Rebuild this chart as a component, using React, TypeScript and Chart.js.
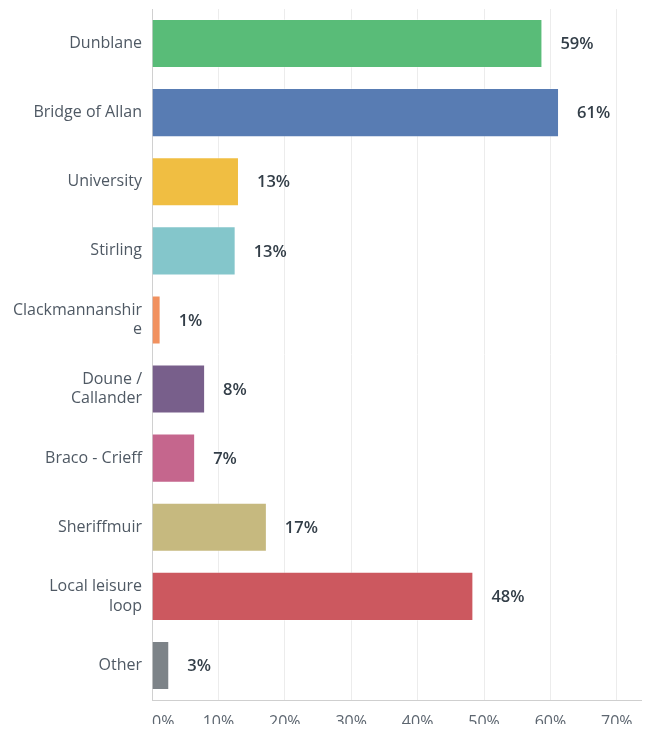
import React, { useEffect, useRef } from "react";
import { Chart, registerables } from "chart.js";

Chart.register(...registerables);

const categories: (string | string[])[] = [
  "Dunblane",
  "Bridge of Allan",
  "University",
  "Stirling",
  ["Clackmannanshir", "e"],
  ["Doune /", "Callander"],
  "Braco - Crieff",
  "Sheriffmuir",
  ["Local leisure", "loop"],
  "Other",
];

const values: number[] = [58.8, 61.3, 13.1, 12.6, 1.3, 8.0, 6.5, 17.3, 48.4, 2.6];

const barColors: string[] = [
  "#59bc78",
  "#587cb3",
  "#f0be42",
  "#84c6cb",
  "#f1915f",
  "#785f8b",
  "#c5668d",
  "#c6b97f",
  "#cc585f",
  "#7d8388",
];

const tickValues: number[] = [0, 10, 20, 30, 40, 50, 60, 70];

const FONT = "'Open Sans', sans-serif";

const valueLabelPlugin = {
  id: "valueLabels",
  afterDatasetsDraw(chart: any) {
    const ctx = chart.ctx;
    const meta = chart.getDatasetMeta(0);
    ctx.save();
    ctx.font = `600 16.5px ${FONT}`;
    ctx.fillStyle = "#333e48";
    ctx.textAlign = "left";
    ctx.textBaseline = "middle";
    meta.data.forEach((bar: any, i: number) => {
      const v = chart.data.datasets[0].data[i] as number;
      ctx.fillText(`${Math.round(v)}%`, bar.x + 18, bar.y + 1);
    });
    ctx.restore();
  },
};

const bottomLinePlugin = {
  id: "bottomLine",
  afterDraw(chart: any) {
    const ctx = chart.ctx;
    const y = Math.round(chart.chartArea.bottom) + 0.5;
    ctx.save();
    ctx.strokeStyle = "#cfcfcf";
    ctx.lineWidth = 1;
    ctx.beginPath();
    ctx.moveTo(chart.chartArea.left, y);
    ctx.lineTo(chart.width, y);
    ctx.stroke();
    ctx.restore();
  },
};

export default function App() {
  const ref = useRef<HTMLCanvasElement | null>(null);

  useEffect(() => {
    if (!ref.current) return;
    const chart = new Chart(ref.current, {
      type: "bar",
      data: {
        labels: categories,
        datasets: [
          {
            data: values,
            backgroundColor: barColors,
            borderColor: barColors.map(() => "rgba(255,255,255,0.35)"),
            borderWidth: 1,
            barPercentage: 0.71,
            categoryPercentage: 1,
          },
        ],
      },
      options: {
        indexAxis: "y",
        animation: false,
        responsive: false,
        layout: { padding: { top: 9, left: 0, right: 0, bottom: 0 } },
        plugins: {
          legend: { display: false },
          tooltip: { enabled: false },
        },
        scales: {
          x: {
            min: 0,
            max: 75,
            afterBuildTicks: (scale: any) => {
              scale.ticks = [...tickValues, 75].map((v) => ({ value: v }));
            },
            afterFit: (scale: any) => {
              scale.height = 32;
              scale.paddingLeft = 0;
              scale.paddingRight = 0;
            },
            grid: {
              drawTicks: false,
              color: (c: any) => (c.tick && c.tick.value > 70 ? "rgba(0,0,0,0)" : "#ececec"),
              lineWidth: 1,
            },
            border: { display: false },
            ticks: {
              align: "inner",
              padding: 13,
              color: "#5d6670",
              font: { family: FONT, size: 16 },
              callback: (v: any) => (Number(v) > 70 ? "" : `${v}%`),
              maxRotation: 0,
              autoSkip: false,
            },
          },
          y: {
            afterFit: (scale: any) => {
              scale.width = 152;
              scale.paddingTop = 0;
              scale.paddingBottom = 0;
            },
            grid: { display: false, drawTicks: false },
            border: { display: true, color: "#d0d0d0", width: 1 },
            ticks: {
              padding: 10,
              color: "#4f5964",
              font: { family: FONT, size: 16, lineHeight: 1.2 },
              autoSkip: false,
            },
          },
        },
      },
      plugins: [valueLabelPlugin, bottomLinePlugin],
    });
    return () => chart.destroy();
  }, []);

  return (
    <div style={{ margin: -8, width: 650, height: 732, background: "#fff" }}>
      <canvas ref={ref} width={650} height={732} style={{ display: "block" }} />
    </div>
  );
}
